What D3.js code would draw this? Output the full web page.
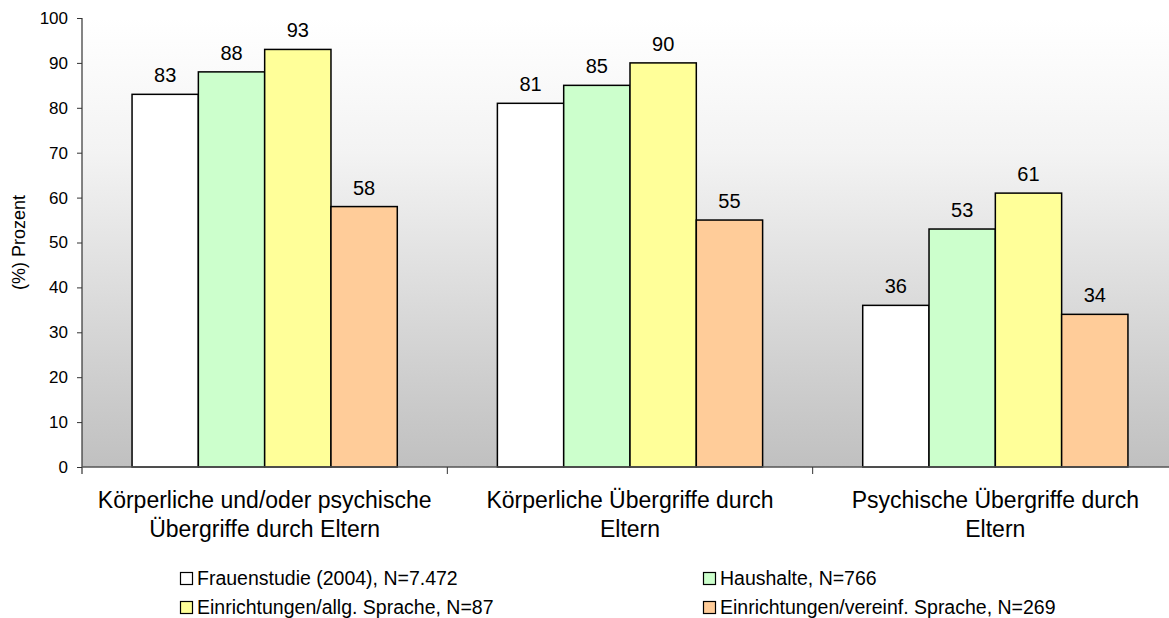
<!DOCTYPE html>
<html>
<head>
<meta charset="utf-8">
<title>Übergriffe durch Eltern</title>
<script src="https://d3js.org/d3.v7.min.js"></script>
<style>
  body { margin: 0; background: #fff; }
  text { font-family: "Liberation Sans", Arial, sans-serif; fill: #000; }
</style>
</head>
<body>
<script>
// data
var categories = ["kp", "k", "p"];
var categoryLabels = [
  ["Körperliche und/oder psychische", "Übergriffe durch Eltern"],
  ["Körperliche Übergriffe durch", "Eltern"],
  ["Psychische Übergriffe durch", "Eltern"]
];
var seriesNames = [
  "Frauenstudie (2004), N=7.472",
  "Haushalte, N=766",
  "Einrichtungen/allg. Sprache, N=87",
  "Einrichtungen/vereinf. Sprache, N=269"
];
var frauenstudie = [83, 81, 36];
var haushalte = [88, 85, 53];
var einrAllg = [93, 90, 61];
var einrVereinf = [58, 55, 34];
var yTicks = [0, 10, 20, 30, 40, 50, 60, 70, 80, 90, 100];
var yTitle = "(%) Prozent";

var seriesValues = [frauenstudie, haushalte, einrAllg, einrVereinf];
var colors = ["#ffffff", "#ccffcc", "#ffff99", "#ffcc99"];

var width = 1169, height = 618;
var plot = {left: 82, right: 1178, top: 18, bottom: 467};

var svg = d3.select("body").append("svg")
  .attr("width", width)
  .attr("height", height);

//scales
var x0 = d3.scaleBand()
  .domain(categories)
  .range([plot.left, plot.right])
  .paddingInner(0.274)
  .paddingOuter(0.137);

var x1 = d3.scaleBand()
  .domain(d3.range(seriesNames.length))
  .range([0, x0.bandwidth()]);

var y = d3.scaleLinear()
  .domain([0, 100])
  .range([plot.bottom, plot.top]);

//background gradient
var grad = svg.append("defs").append("linearGradient")
  .attr("id", "bg")
  .attr("x1", 0).attr("y1", 0).attr("x2", 0).attr("y2", 1);
grad.append("stop").attr("offset", 0).attr("stop-color", "#ffffff");
grad.append("stop").attr("offset", 0.3).attr("stop-color", "#f3f3f3");
grad.append("stop").attr("offset", 0.75).attr("stop-color", "#d2d2d2");
grad.append("stop").attr("offset", 1).attr("stop-color", "#c0c0c0");

svg.append("rect")
  .attr("x", plot.left)
  .attr("y", plot.top)
  .attr("width", plot.right - plot.left)
  .attr("height", plot.bottom - plot.top)
  .attr("fill", "url(#bg)");

//bars
var groups = svg.append("g").selectAll("g")
  .data(categories)
  .enter().append("g")
  .attr("transform", function(d) { return "translate(" + x0(d) + ",0)"; });

groups.selectAll("rect")
  .data(function(d, ci) { return seriesValues.map(function(s, si) { return {s: si, v: s[ci]}; }); })
  .enter().append("rect")
  .attr("x", function(d) { return x1(d.s); })
  .attr("y", function(d) { return y(d.v); })
  .attr("width", x1.bandwidth())
  .attr("height", function(d) { return y(0) - y(d.v); })
  .attr("fill", function(d) { return colors[d.s]; })
  .attr("stroke", "#000")
  .attr("stroke-width", 1.5);

groups.selectAll("text")
  .data(function(d, ci) { return seriesValues.map(function(s, si) { return {s: si, v: s[ci]}; }); })
  .enter().append("text")
  .attr("x", function(d) { return x1(d.s) + x1.bandwidth() / 2; })
  .attr("y", function(d) { return y(d.v) - 12; })
  .attr("text-anchor", "middle")
  .attr("font-size", 20)
  .text(function(d) { return d.v; });

//y axis
var yAxis = svg.append("g")
  .attr("transform", "translate(" + plot.left + ",0)")
  .call(d3.axisLeft(y).tickValues(yTicks).tickSize(5).tickPadding(9));
yAxis.select(".domain").attr("stroke", "#333").attr("stroke-width", 1.2)
  .attr("d", "M0," + plot.top + "V" + (plot.bottom + 7));
yAxis.selectAll(".tick line").attr("stroke", "#333");
yAxis.selectAll(".tick text")
  .attr("font-size", 17)
  .attr("font-family", "Liberation Sans, Arial, sans-serif")
  .attr("fill", "#000");

svg.append("text")
  .attr("transform", "translate(25," + ((plot.top + plot.bottom) / 2) + ") rotate(-90)")
  .attr("text-anchor", "middle")
  .attr("font-size", 18)
  .text(yTitle);

//x axis line with boundary ticks
var xa = svg.append("g");
xa.append("line")
  .attr("x1", plot.left).attr("x2", plot.right)
  .attr("y1", plot.bottom).attr("y2", plot.bottom)
  .attr("stroke", "#555").attr("stroke-width", 1.5);
xa.selectAll(".sep")
  .data(categories.slice(1))
  .enter().append("line")
  .attr("x1", function(d) { return x0(d) - x0.step() * x0.paddingInner() / 2; })
  .attr("x2", function(d) { return x0(d) - x0.step() * x0.paddingInner() / 2; })
  .attr("y1", plot.bottom).attr("y2", plot.bottom + 7)
  .attr("stroke", "#333");

//category labels
svg.append("g").selectAll("text")
  .data(categories)
  .enter().append("text")
  .attr("text-anchor", "middle")
  .attr("font-size", 23)
  .each(function(d, i) {
    var t = d3.select(this);
    categoryLabels[i].forEach(function(line, k) {
      t.append("tspan")
        .attr("x", x0(d) + x0.bandwidth() / 2)
        .attr("y", 508 + k * 28.5)
        .text(line);
    });
  });

//legend
var legendPos = [[180, 572], [703, 572], [180, 601], [703, 601]];
var legend = svg.append("g").selectAll("g")
  .data(seriesNames)
  .enter().append("g")
  .attr("transform", function(d, i) { return "translate(" + legendPos[i][0] + "," + legendPos[i][1] + ")"; });

legend.append("rect")
  .attr("x", 0.5).attr("y", 0.5)
  .attr("width", 12).attr("height", 12)
  .attr("fill", function(d, i) { return colors[i]; })
  .attr("stroke", "#000").attr("stroke-width", 1.2);

legend.append("text")
  .attr("x", 17)
  .attr("y", 12.5)
  .attr("font-size", 19.5)
  .text(function(d) { return d; });
</script>
</body>
</html>
